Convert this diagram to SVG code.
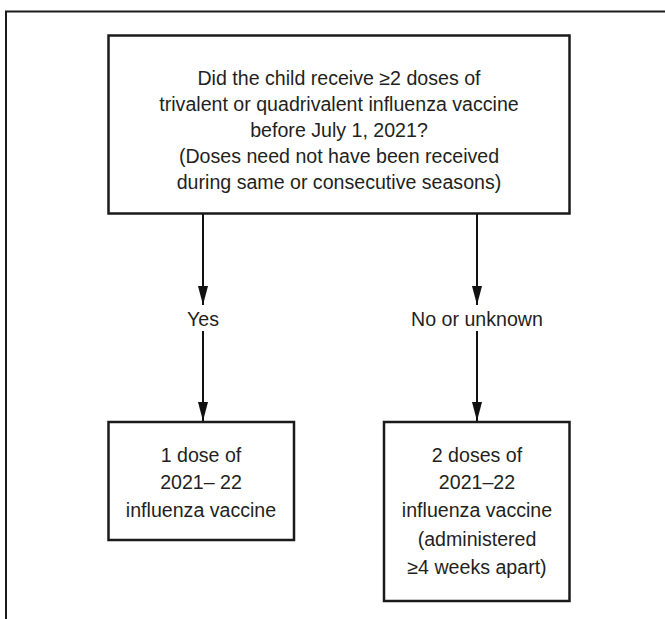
<svg xmlns="http://www.w3.org/2000/svg" width="665" height="619" viewBox="0 0 665 619">
<defs>
<style>
.box{fill:#fff;stroke:#1a1a1a;stroke-width:2.5}
.frame{fill:none;stroke:#1a1a1a;stroke-width:2}
.t{font-family:"Liberation Sans",Arial,sans-serif;font-size:19.6px;fill:#231f20;text-anchor:middle}
.edge{stroke:#111;stroke-width:2;fill:none}
</style>
<marker id="ah" viewBox="0 0 19 10" refX="19" refY="5" markerWidth="19" markerHeight="10" markerUnits="userSpaceOnUse" orient="auto"><path d="M0,0 L19,5 L0,10 Z" fill="#111"/></marker>
</defs>
<rect width="665" height="619" fill="#fff"/>
<path class="frame" d="M6,619 V11.5 H665"/>
<g id="connectors">
<line class="edge" x1="203" y1="214" x2="203" y2="305" marker-end="url(#ah)"/>
<line class="edge" x1="203" y1="331" x2="203" y2="421" marker-end="url(#ah)"/>
<line class="edge" x1="477" y1="214" x2="477" y2="305" marker-end="url(#ah)"/>
<line class="edge" x1="477" y1="331" x2="477" y2="421" marker-end="url(#ah)"/>
<text class="t" x="203" y="326">Yes</text>
<text class="t" x="477" y="326">No or unknown</text>
</g>
<g id="question">
<rect class="box" x="108.5" y="35.5" width="461" height="178"/>
<text class="t" x="339" y="85">Did the child receive ≥2 doses of</text>
<text class="t" x="339" y="111">trivalent or quadrivalent influenza vaccine</text>
<text class="t" x="339" y="137">before July 1, 2021?</text>
<text class="t" x="339" y="163">(Doses need not have been received</text>
<text class="t" x="339" y="189">during same or consecutive seasons)</text>
</g>
<g id="one-dose">
<rect class="box" x="108.5" y="422" width="185.5" height="118"/>
<text class="t" x="201" y="462">1 dose of</text>
<text class="t" x="201" y="489">2021– 22</text>
<text class="t" x="201" y="517">influenza vaccine</text>
</g>
<g id="two-doses">
<rect class="box" x="384" y="422" width="185.5" height="179"/>
<text class="t" x="477" y="462">2 doses of</text>
<text class="t" x="477" y="489">2021–22</text>
<text class="t" x="477" y="517">influenza vaccine</text>
<text class="t" x="477" y="546">(administered</text>
<text class="t" x="477" y="574">≥4 weeks apart)</text>
</g>
</svg>
